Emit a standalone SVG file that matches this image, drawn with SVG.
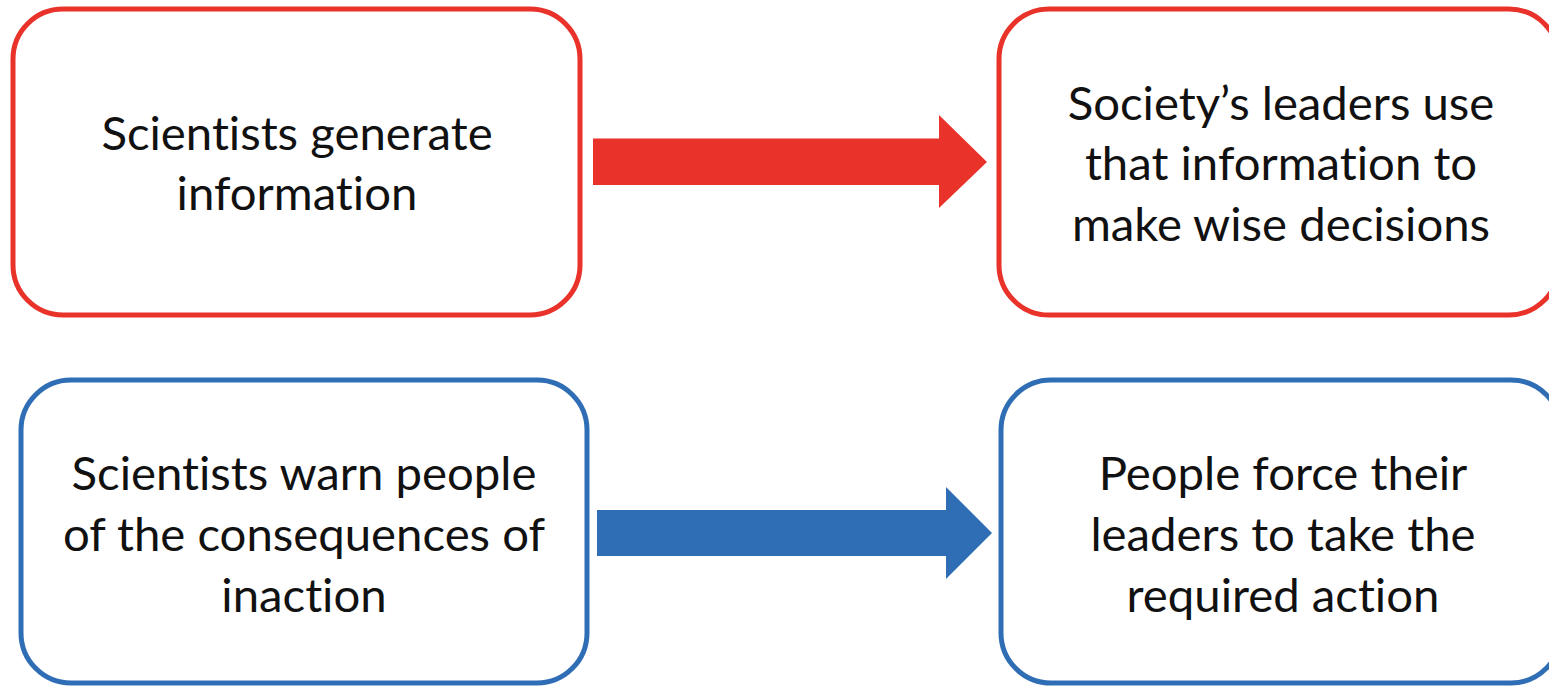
<svg xmlns="http://www.w3.org/2000/svg" width="1549" height="687" viewBox="0 0 1549 687">
<style>
.box{fill:#fff;stroke-width:5}
.red{stroke:#E8322A}
.blue{stroke:#2F6EB5}
.t{font-family:Lato,"Liberation Sans",sans-serif;font-size:47.3px;fill:#111;text-anchor:middle;font-variant-ligatures:none;font-feature-settings:"liga" 0}
</style>
<rect width="1549" height="687" fill="#fff"/>
<g id="n1"><rect class="box red" x="13" y="9" width="567" height="306" rx="50"/>
<text class="t" x="297" y="150">Scientists generate</text>
<text class="t" x="297" y="210">information</text></g>
<g id="n2"><rect class="box red" x="999" y="9" width="560" height="306" rx="50"/>
<text class="t" x="1281" y="120">Society’s leaders use</text>
<text class="t" x="1281" y="180">that information to</text>
<text class="t" x="1281" y="241">make wise decisions</text></g>
<g id="n3"><rect class="box blue" x="21" y="380" width="566" height="303" rx="50"/>
<text class="t" x="304" y="490">Scientists warn people</text>
<text class="t" x="304" y="551">of the consequences of</text>
<text class="t" x="304" y="612">inaction</text></g>
<g id="n4"><rect class="box blue" x="1001" y="380" width="560" height="303" rx="50"/>
<text class="t" x="1283" y="490">People force their</text>
<text class="t" x="1283" y="551">leaders to take the</text>
<text class="t" x="1283" y="612">required action</text></g>
<g id="connectors">
<polygon fill="#E8322A" points="593,138.5 939,138.5 939,115 987,162 939,208 939,185 593,185"/>
<polygon fill="#2F6EB5" points="597,510 946,510 946,487 992,533 946,579 946,556 597,556"/>
</g>
</svg>
